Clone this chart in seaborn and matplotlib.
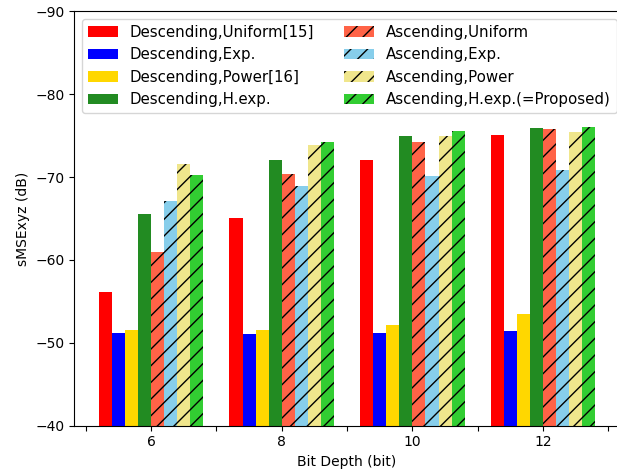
import matplotlib
matplotlib.use("Agg")
import matplotlib.pyplot as plt
import seaborn as sns
import pandas as pd

bit_depths = [6, 8, 10, 12]
series = ["Descending,Uniform[15]", "Descending,Exp.", "Descending,Power[16]",
          "Descending,H.exp.", "Ascending,Uniform", "Ascending,Exp.",
          "Ascending,Power", "Ascending,H.exp.(=Proposed)"]
desc_uniform = [-56.1, -65.1, -72.0, -75.1]
desc_exp = [-51.2, -51.1, -51.2, -51.4]
desc_power = [-51.5, -51.6, -52.1, -53.5]
desc_hexp = [-65.6, -72.0, -75.0, -75.9]
asc_uniform = [-61.0, -70.4, -74.2, -75.8]
asc_exp = [-67.1, -68.9, -70.1, -70.8]
asc_power = [-71.6, -73.9, -75.0, -75.4]
asc_hexp = [-70.2, -74.2, -75.6, -76.0]
colors = ["red", "blue", "gold", "forestgreen", "tomato", "skyblue", "khaki", "limegreen"]

values = [desc_uniform, desc_exp, desc_power, desc_hexp,
          asc_uniform, asc_exp, asc_power, asc_hexp]
rows = []
for name, vals in zip(series, values):
    for b, v in zip(bit_depths, vals):
        rows.append({"bit": b, "val": v, "series": name})
df = pd.DataFrame(rows)

fig = plt.figure(figsize=(6.17, 4.75), dpi=100)
ax = fig.add_axes([0.12, 0.1038, 0.885, 0.8724])
sns.barplot(data=df, x="bit", y="val", hue="series", hue_order=series,
            palette=colors, saturation=1, native_scale=True, errorbar=None,
            width=0.8, ax=ax)
for i, cont in enumerate(ax.containers):
    for p in cont:
        p.set_edgecolor("black")
        p.set_linewidth(0)
        if i >= 4:
            p.set_hatch("//")
ax.set_ylim(-40, -90)
ax.set_xlim(4.82, 13.18)
ax.set_xticks(list(range(5, 14)))
ax.set_xticklabels([str(t) if t % 2 == 0 else "" for t in range(5, 14)])
ax.set_yticks([-90, -80, -70, -60, -50, -40])
ax.set_xlabel("Bit Depth (bit)")
ax.set_ylabel("sMSExyz (dB)")
ax.spines["right"].set_visible(False)
if ax.get_legend() is not None:
    ax.get_legend().remove()
ax.legend(handles=list(ax.containers), labels=series, ncol=2, loc="upper left",
          fontsize=10.8)
fig.savefig("out.png", dpi=100)
